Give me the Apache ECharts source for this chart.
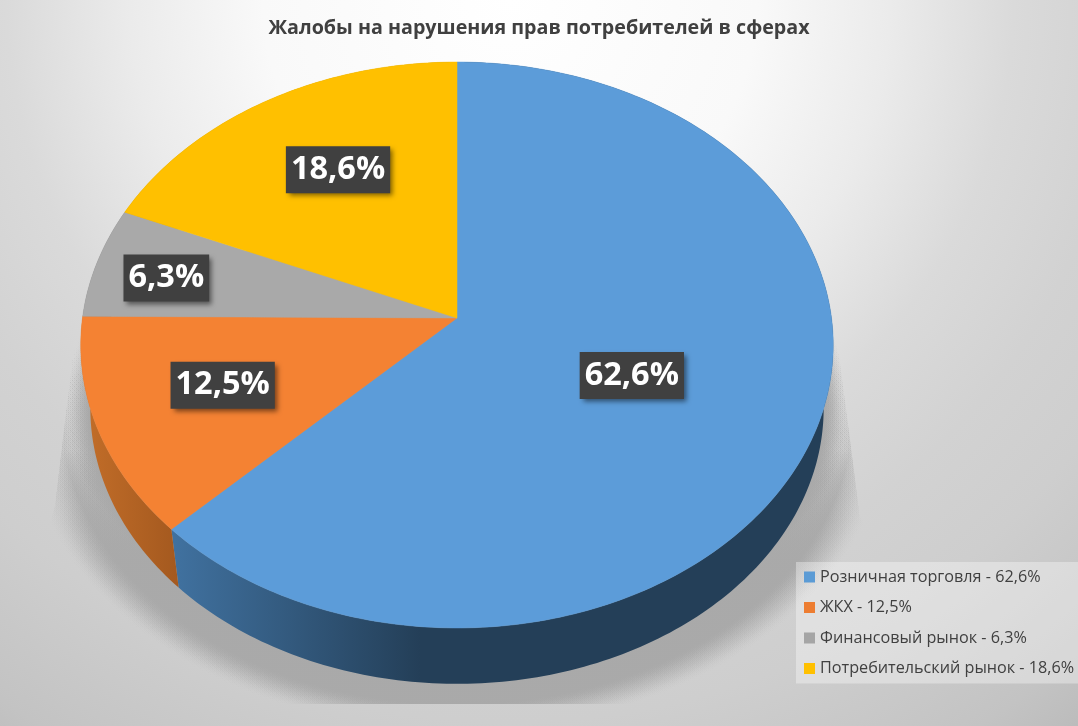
<!DOCTYPE html>
<html><head><meta charset="utf-8">
<style>html,body{margin:0;padding:0}#c{width:1078px;height:726px}</style>
<script src="https://cdn.jsdelivr.net/npm/echarts@6/dist/echarts.min.js"></script>
</head><body><div id="c"></div>
<script>
const titleText = 'Жалобы на нарушения прав потребителей в сферах';
const categories = ['Розничная торговля', 'ЖКХ', 'Финансовый рынок', 'Потребительский рынок'];
const shares = [62.6, 12.5, 6.3, 18.6];
const legendColors = ['#5B9BD5', '#ED7D31', '#A5A5A5', '#FFC000'];
const topColors = ['#5C9CD9', '#F48233', '#A9A9A9', '#FFC000'];
const wallStops = [['#40719F', '#243F58'], ['#C06C28', '#A4591F'], ['#777777', '#777777'], ['#BF9000', '#BF9000']];
const labelFrac = [0.5, 0.655, 0.8, 0.65];
const labelNudge = [1, 1.2, -1.3, 2.5];

const K = 0.0954, CX = 457;
const TOP = {a: 374.5, b: 280.4, cy: 318};
const BASE = {a: 365, b: 273, cy: 382};
const total = shares.reduce((s, v) => s + v, 0);
const fmt = v => v.toFixed(1).replace('.', ',') + '%';
function pt(deg, disc, f) {
  const t = deg * Math.PI / 180, u = Math.sin(t) * f, v = -Math.cos(t) * f, w = 1 - K * v;
  return [CX + disc.a * u / w, disc.cy + disc.b * v / w];
}
function span(i) {
  let s = 0;
  for (let j = 0; j < i; j++) s += shares[j];
  return [s / total * 360, (s + shares[i]) / total * 360];
}
function rim(a0, a1, disc) {
  const out = [], n = Math.max(2, Math.ceil(Math.abs(a1 - a0)));
  for (let i = 0; i <= n; i++) out.push(pt(a0 + (a1 - a0) * i / n, disc, 1));
  return out;
}
const wedgeSeries = categories.map((name, i) => ({
  type: 'custom', name, coordinateSystem: 'none', z: 4, silent: true,
  itemStyle: {color: legendColors[i]},
  data: [[shares[i]]],
  renderItem() {
    const [a0, a1] = span(i);
    return {type: 'polygon', shape: {points: [[CX, TOP.cy]].concat(rim(a0, a1, TOP))},
      style: {fill: topColors[i], stroke: topColors[i], lineWidth: 0.5}};
  }
}));
// soft floor shadow: stacked translucent rings, clipped to the perspective wedge
function shadowRings(solid, fade, xGrow, alphaAt) {
  const children = [];
  let prev = 0;
  for (let d = solid + fade; d >= 0; d -= 1) {
    const s = Math.min(1, Math.max(0, (solid + fade - d) / fade));
    const target = Math.min(0.995, s * s * (3 - 2 * s));
    const alpha = 1 - (1 - target) / (1 - prev);
    prev = target;
    if (alpha <= 0) continue;
    const rgba = g => 'rgba(169,169,169,' + (alpha * g).toFixed(4) + ')';
    children.push({type: 'polygon',
      shape: {points: rim(0, 360, {a: BASE.a + d * xGrow, b: BASE.b + d, cy: BASE.cy})},
      style: {fill: {type: 'linear', x: 0, y: 340, x2: 0, y2: 560, global: true,
        colorStops: alphaAt.map((g, k) => ({offset: k / (alphaAt.length - 1), color: rgba(g)}))}}});
  }
  return children;
}
const shadowSeries = {
  type: 'custom', name: 'shadow', coordinateSystem: 'none', z: 1, silent: true, data: [[1]],
  renderItem() {
    const children = shadowRings(18, 26, 1.6, [0, 0.03, 0.1, 0.45, 1])
      .concat(shadowRings(0, 24, 1, [1, 1]));
    return {type: 'group', children,
      clipPath: {type: 'polygon', shape: {points: [[85, 250], [55, 505], [0, 704], [1078, 704], [860, 518], [827, 257]]}}};
  }
};
const wallSeries = {
  type: 'custom', name: 'walls', coordinateSystem: 'none', z: 2, silent: true,
  data: shares.map(v => [v]),
  renderItem(params) {
    const i = params.dataIndex;
    const [a0, a1] = span(i);
    const top = rim(a0, a1, TOP), base = rim(a0, a1, BASE).reverse();
    const fill = i === 0
      ? {type: 'linear', x: 175, y: 0, x2: 420, y2: 0, global: true,
         colorStops: [{offset: 0, color: wallStops[0][0]}, {offset: 1, color: wallStops[0][1]}]}
      : {type: 'linear', x: 90, y: 0, x2: 178, y2: 0, global: true,
         colorStops: [{offset: 0, color: wallStops[i][0]}, {offset: 1, color: wallStops[i][1]}]};
    return {type: 'polygon', shape: {points: top.concat(base)}, style: {fill}};
  }
};
const labelSeries = {
  type: 'custom', name: 'labels', coordinateSystem: 'none', z: 6, silent: true,
  data: shares.map(v => [v]),
  renderItem(params, api) {
    const i = params.dataIndex, [a0, a1] = span(i);
    const p = pt((a0 + a1) / 2 + labelNudge[i], TOP, labelFrac[i]);
    return {type: 'text', x: p[0], y: p[1], style: {
      text: fmt(api.value(0)), fill: '#fff', font: 'bold 32.5px "Open Sans"',
      align: 'center', verticalAlign: 'middle', backgroundColor: '#404040',
      padding: [10, 5, 4, 5], shadowBlur: 5, shadowOffsetX: 3, shadowOffsetY: 3,
      shadowColor: 'rgba(0,0,0,0.5)'}};
  }
};
const chart = echarts.init(document.getElementById('c'), null, {renderer: 'canvas'});
chart.setOption({
  animation: false,
  backgroundColor: {type: 'radial', x: 510, y: 0, r: 950, global: true,
    colorStops: [{offset: 0, color: '#ffffff'}, {offset: 0.26, color: '#f9f9f9'}, {offset: 0.4, color: '#ebebeb'},
      {offset: 0.53, color: '#dadada'}, {offset: 0.65, color: '#d2d2d2'}, {offset: 0.76, color: '#cecece'},
      {offset: 0.91, color: '#c3c3c3'}, {offset: 1, color: '#b8b8b8'}]},
  title: {text: titleText, left: 'center', top: 13,
    textStyle: {fontFamily: 'Open Sans', fontWeight: 'bold', fontSize: 19.7, color: '#404040'}},
  legend: {
    orient: 'vertical', left: 796, top: 562, icon: 'rect', itemWidth: 11, itemHeight: 11, itemGap: 10.5,
    padding: [5, 4, 5, 8], backgroundColor: 'rgba(255,255,255,0.35)', selectedMode: false,
    data: categories,
    formatter: name => name + ' - ' + fmt(shares[categories.indexOf(name)]),
    textStyle: {fontFamily: 'Open Sans', fontSize: 16.2, lineHeight: 20, color: '#404040'}
  },
  series: [shadowSeries, wallSeries, ...wedgeSeries, labelSeries]
});
</script></body></html>
